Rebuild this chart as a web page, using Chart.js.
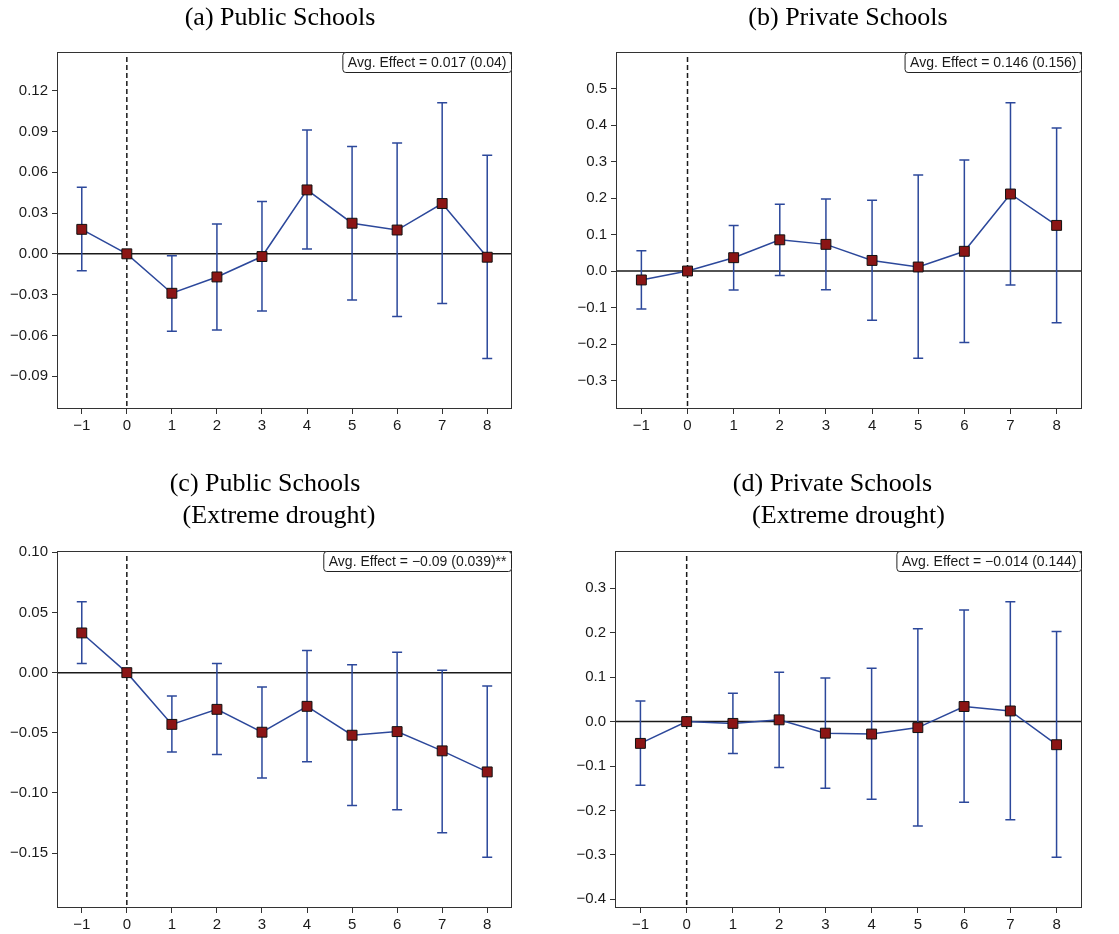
<!DOCTYPE html>
<html>
<head>
<meta charset="utf-8">
<script src="https://cdn.jsdelivr.net/npm/chart.js@4.4.0/dist/chart.umd.min.js"></script>
<style>
  body { margin: 0; background: #fff; }
  #wrap { position: relative; width: 1119px; height: 934px; overflow: hidden; }
  canvas { position: absolute; }
</style>
</head>
<body>
<div id="wrap">
  <canvas id="panelA" width="560" height="467" style="left:0;top:0"></canvas>
  <canvas id="panelB" width="559" height="467" style="left:560px;top:0"></canvas>
  <canvas id="panelC" width="560" height="467" style="left:0;top:467px"></canvas>
  <canvas id="panelD" width="559" height="467" style="left:560px;top:467px"></canvas>
</div>
<script>
// event time (years relative to drought)
const eventTime = [-1, 0, 1, 2, 3, 4, 5, 6, 7, 8];
const xTicks = [-1, 0, 1, 2, 3, 4, 5, 6, 7, 8];
const xRange = [-1.55, 8.55];

// (a) Public Schools
const coefA = [0.018, 0, -0.029, -0.017, -0.002, 0.047, 0.0225, 0.0175, 0.037, -0.0025];
const loA = [-0.0125, null, -0.057, -0.056, -0.042, 0.0035, -0.034, -0.046, -0.0365, -0.077];
const hiA = [0.049, null, -0.0015, 0.022, 0.0385, 0.091, 0.079, 0.0815, 0.111, 0.0725];
const yTicksA = [-0.09, -0.06, -0.03, 0, 0.03, 0.06, 0.09, 0.12];
const yRangeA = [-0.1141, 0.1484];
const titleA = ['(a) Public Schools'];
const noteA = 'Avg. Effect = 0.017 (0.04)';

// (b) Private Schools
const coefB = [-0.0245, 0, 0.0365, 0.0855, 0.073, 0.029, 0.011, 0.054, 0.211, 0.125];
const loB = [-0.104, null, -0.052, -0.012, -0.051, -0.135, -0.239, -0.196, -0.038, -0.142];
const hiB = [0.0555, null, 0.125, 0.183, 0.197, 0.194, 0.263, 0.304, 0.461, 0.392];
const yTicksB = [-0.3, -0.2, -0.1, 0, 0.1, 0.2, 0.3, 0.4, 0.5];
const yRangeB = [-0.378, 0.600];
const titleB = ['(b) Private Schools'];
const noteB = 'Avg. Effect = 0.146 (0.156)';

// (c) Public Schools, extreme drought
const coefC = [0.033, 0, -0.043, -0.0305, -0.0495, -0.028, -0.052, -0.049, -0.065, -0.0825];
const loC = [0.0075, null, -0.066, -0.068, -0.0875, -0.074, -0.1105, -0.114, -0.133, -0.1535];
const hiC = [0.059, null, -0.0195, 0.0075, -0.012, 0.0185, 0.0065, 0.017, 0.002, -0.011];
const yTicksC = [-0.15, -0.10, -0.05, 0, 0.05, 0.10];
const yRangeC = [-0.1956, 0.1011];
const titleC = ['(c) Public Schools', '(Extreme drought)'];
const noteC = 'Avg. Effect = \u22120.09 (0.039)**';

// (d) Private Schools, extreme drought
const coefD = [-0.049, 0, -0.004, 0.004, -0.026, -0.028, -0.0135, 0.034, 0.024, -0.052];
const loD = [-0.143, null, -0.072, -0.1035, -0.150, -0.175, -0.235, -0.1815, -0.221, -0.305];
const hiD = [0.0465, null, 0.064, 0.111, 0.098, 0.120, 0.209, 0.251, 0.270, 0.203];
const yTicksD = [-0.4, -0.3, -0.2, -0.1, 0, 0.1, 0.2, 0.3];
const yRangeD = [-0.4195, 0.384];
const titleD = ['(d) Private Schools', '(Extreme drought)'];
const noteD = 'Avg. Effect = \u22120.014 (0.144)';

const BLUE = '#2c489b';
const RED = '#8b1515';
const AXIS = '#333333';
const TEXT = '#1a1a1a';
const tickFont = { family: '"Liberation Sans", Arial, sans-serif', size: 15 };

const minus = s => s.replace('-', '\u2212');

// layout of each panel (canvas pixels)
const panels = [
    { id: 'panelA', w: 560, h: 467, area: { l: 57, r: 512, t: 52, b: 409 },
      coef: coefA, lo: loA, hi: hiA, yTicks: yTicksA, yRange: yRangeA, digits: 2,
      title: titleA, titlePos: [[280, 25]], note: noteA },
    { id: 'panelB', w: 559, h: 467, area: { l: 56, r: 522, t: 52, b: 409 },
      coef: coefB, lo: loB, hi: hiB, yTicks: yTicksB, yRange: yRangeB, digits: 1,
      title: titleB, titlePos: [[288, 25]], note: noteB },
    { id: 'panelC', w: 560, h: 467, area: { l: 57, r: 512, t: 84, b: 441 },
      coef: coefC, lo: loC, hi: hiC, yTicks: yTicksC, yRange: yRangeC, digits: 2,
      title: titleC, titlePos: [[265, 24], [279, 56]], note: noteC },
    { id: 'panelD', w: 559, h: 467, area: { l: 55, r: 522, t: 84, b: 441 },
      coef: coefD, lo: loD, hi: hiD, yTicks: yTicksD, yRange: yRangeD, digits: 1,
      title: titleD, titlePos: [[272.5, 24], [288.5, 56]], note: noteD }
];

// zero line, event line, error bars, frame, note box and titles
function panelDecor(p) {
    return {
        id: 'decor',
        beforeDatasetsDraw(chart) {
            const { ctx, chartArea: a, scales: { x, y } } = chart;
            ctx.save();
            ctx.strokeStyle = '#1a1a1a';
            ctx.lineWidth = 1.5;
            const y0 = y.getPixelForValue(0);
            ctx.beginPath();
            ctx.moveTo(a.left, y0);
            ctx.lineTo(a.right, y0);
            ctx.stroke();

            const x0 = x.getPixelForValue(0);
            ctx.setLineDash([5, 3]);
            ctx.beginPath();
            ctx.moveTo(x0, a.top + 5);
            ctx.lineTo(x0, a.bottom);
            ctx.stroke();
            ctx.setLineDash([]);

            ctx.strokeStyle = BLUE;
            ctx.lineWidth = 1.5;
            eventTime.forEach((t, i) => {
                if (p.lo[i] == null) return;
                const px = x.getPixelForValue(t);
                const top = y.getPixelForValue(p.hi[i]);
                const bot = y.getPixelForValue(p.lo[i]);
                ctx.beginPath();
                ctx.moveTo(px, top); ctx.lineTo(px, bot);
                ctx.moveTo(px - 5, top); ctx.lineTo(px + 5, top);
                ctx.moveTo(px - 5, bot); ctx.lineTo(px + 5, bot);
                ctx.stroke();
            });
            ctx.restore();
        },
        afterDatasetsDraw(chart) {
            const { ctx, chartArea: a } = chart;
            ctx.save();
            ctx.strokeStyle = AXIS;
            ctx.lineWidth = 1;
            ctx.strokeRect(a.left + 0.5, a.top + 0.5, a.right - a.left - 1, a.bottom - a.top - 1);

            // note box in the top right corner
            ctx.font = '14px "Liberation Sans", Arial, sans-serif';
            const tw = ctx.measureText(p.note).width;
            const bw = tw + 10, bh = 20, r = 3;
            const bx = a.right - bw - 0.5, by = a.top + 0.5;
            ctx.beginPath();
            ctx.moveTo(bx + r, by);
            ctx.lineTo(bx + bw - r, by);
            ctx.arcTo(bx + bw, by, bx + bw, by + r, r);
            ctx.lineTo(bx + bw, by + bh - r);
            ctx.arcTo(bx + bw, by + bh, bx + bw - r, by + bh, r);
            ctx.lineTo(bx + r, by + bh);
            ctx.arcTo(bx, by + bh, bx, by + bh - r, r);
            ctx.lineTo(bx, by + r);
            ctx.arcTo(bx, by, bx + r, by, r);
            ctx.closePath();
            ctx.fillStyle = '#fff';
            ctx.fill();
            ctx.strokeStyle = '#222';
            ctx.stroke();
            ctx.fillStyle = TEXT;
            ctx.textBaseline = 'middle';
            ctx.textAlign = 'left';
            ctx.fillText(p.note, bx + 5, by + bh / 2 + 0.5);
            ctx.restore();
        },
        afterDraw(chart) {
            const ctx = chart.ctx;
            ctx.save();
            ctx.font = '26px "Liberation Serif", "Times New Roman", serif';
            ctx.fillStyle = '#000';
            ctx.textAlign = 'center';
            ctx.textBaseline = 'alphabetic';
            p.title.forEach((line, i) => {
                ctx.fillText(line, p.titlePos[i][0], p.titlePos[i][1]);
            });
            ctx.restore();
        }
    };
}

panels.forEach(p => {
    const ctx = document.getElementById(p.id).getContext('2d');
    new Chart(ctx, {
        type: 'line',
        data: {
            datasets: [{
                data: eventTime.map((t, i) => ({ x: t, y: p.coef[i] })),
                borderColor: BLUE,
                borderWidth: 1.5,
                tension: 0,
                fill: false,
                pointStyle: 'rect',
                pointRadius: 7,
                pointHoverRadius: 7,
                pointBackgroundColor: RED,
                pointBorderColor: '#111',
                pointBorderWidth: 1,
                clip: false
            }]
        },
        options: {
            responsive: false,
            animation: false,
            events: [],
            layout: {
                padding: { left: 0, top: p.area.t, right: p.w - p.area.r, bottom: p.h - p.area.b - 24 }
            },
            plugins: {
                legend: { display: false },
                tooltip: { enabled: false }
            },
            scales: {
                x: {
                    type: 'linear',
                    min: xRange[0],
                    max: xRange[1],
                    afterBuildTicks: s => { s.ticks = xTicks.map(v => ({ value: v })); },
                    afterFit: s => { s.height = 24; },
                    border: { display: false },
                    grid: { drawOnChartArea: false, drawTicks: true, tickLength: 5, color: AXIS, lineWidth: 1 },
                    ticks: {
                        font: tickFont, color: TEXT, padding: 3, maxRotation: 0, autoSkip: false,
                        callback: v => minus(String(v))
                    }
                },
                y: {
                    type: 'linear',
                    min: p.yRange[0],
                    max: p.yRange[1],
                    afterBuildTicks: s => { s.ticks = p.yTicks.map(v => ({ value: v })); },
                    afterFit: s => { s.width = p.area.l; },
                    border: { display: false },
                    grid: { drawOnChartArea: false, drawTicks: true, tickLength: 5, color: AXIS, lineWidth: 1 },
                    ticks: {
                        font: tickFont, color: TEXT, padding: 4, autoSkip: false,
                        callback: v => minus(v.toFixed(p.digits))
                    }
                }
            }
        },
        plugins: [panelDecor(p)]
    });
});
</script>
</body>
</html>
